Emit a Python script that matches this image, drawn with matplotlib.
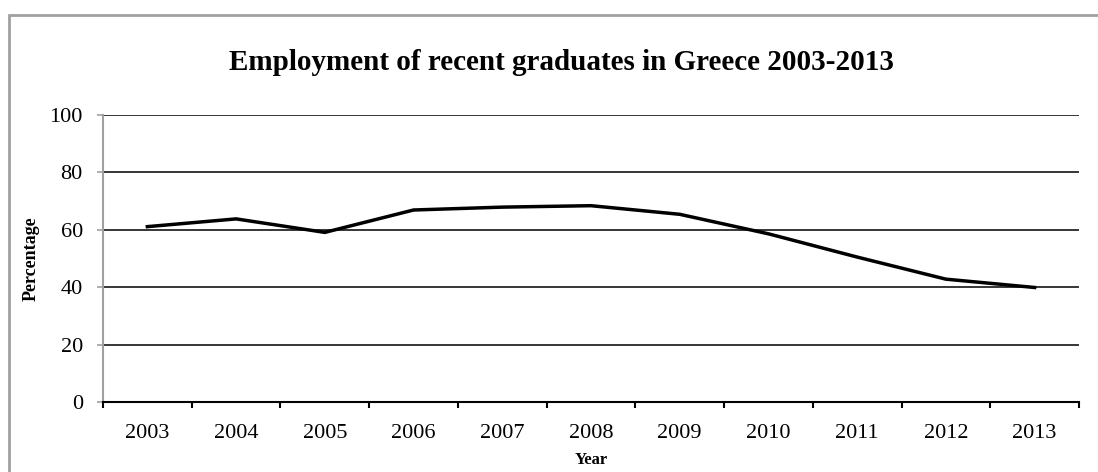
import matplotlib.pyplot as plt
import matplotlib.patches as patches
import numpy as np

years = ['2003', '2004', '2005', '2006', '2007', '2008',
         '2009', '2010', '2011', '2012', '2013']
employment = [61.1, 63.8, 59.1, 66.9, 67.9, 68.4, 65.4, 58.6, 50.5, 42.8, 39.9]

plt.rcParams['font.family'] = ['Liberation Serif', 'DejaVu Serif']

fig = plt.figure(figsize=(10.98, 4.72), dpi=100)
ax = fig.add_axes([103 / 1098, 70 / 472, (1079 - 103) / 1098, (402 - 115) / 472])

x = np.arange(len(years))
ax.plot(x, employment, color='black', linewidth=2.5, solid_joinstyle='miter')

ax.set_xlim(-0.5, len(years) - 0.5)
ax.set_ylim(0, 100)
ax.set_yticks(range(0, 101, 20))
for v in range(20, 101, 20):
    ax.axhline(v, color='black', linewidth=1.1, zorder=0)

# categories sit between tick marks
ax.set_xticks(np.arange(-0.5, len(years), 1.0))
ax.set_xticklabels([])
ax.set_xticks(x, minor=True)
ax.set_xticklabels(years, minor=True, fontsize=16)
ax.tick_params(axis='x', which='major', direction='out', length=4.5, width=1.5, color='black')
ax.tick_params(axis='x', which='minor', length=0, pad=16)
ax.tick_params(axis='y', direction='out', length=4.5, width=1.2, color='#a0a0a0', labelsize=16, pad=10)

for s in ['top', 'right']:
    ax.spines[s].set_visible(False)
ax.spines['left'].set_color('#a0a0a0')
ax.spines['left'].set_linewidth(1.5)
ax.spines['bottom'].set_color('black')
ax.spines['bottom'].set_linewidth(1.5)

ax.set_ylabel('Percentage', fontsize=13, fontweight='bold', labelpad=7)
ax.set_xlabel('Year', fontsize=12, fontweight='bold', labelpad=6)
fig.text(561 / 1098, 1 - 62 / 472, 'Employment of recent graduates in Greece 2003-2013',
         ha='center', va='center', fontsize=21, fontweight='bold')

border = patches.Rectangle((9 / 1098, -0.1), 1.2, 1 - 15 / 472 + 0.1,
                           transform=fig.transFigure, fill=False,
                           edgecolor='#a0a0a0', linewidth=2, clip_on=False)
fig.patches.append(border)

plt.savefig('out.png', dpi=100)
